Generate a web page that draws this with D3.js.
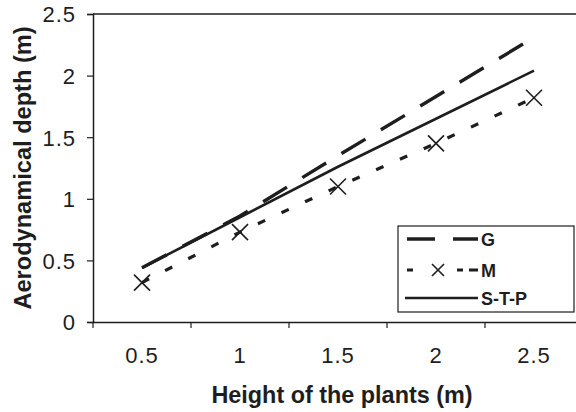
<!DOCTYPE html>
<html><head><meta charset="utf-8">
<script src="https://cdn.jsdelivr.net/npm/d3@7"></script>
<style>body{margin:0;background:#fff}svg{display:block}</style>
</head><body>
<svg id="c" width="576" height="412"></svg>
<script>
const categories = ["0.5","1","1.5","2","2.5"];
const seriesG = [0.44, 0.86, 1.35, 1.83, 2.31];
const seriesM = [0.32, 0.73, 1.10, 1.45, 1.82];
const seriesSTP = [0.44, 0.85, 1.26, 1.65, 2.04];
const yTicks = [0, 0.5, 1, 1.5, 2, 2.5];
const yTickLabels = ["0","0.5","1","1.5","2","2.5"];

const ink = "#1e1e1e";
const font = "'Liberation Sans', Arial, sans-serif";
const svg = d3.select("#c");
const L = 93, T = 14, R = 583, B = 322;
const x = d3.scaleBand().domain(categories).range([L, R]).padding(0);
const y = d3.scaleLinear().domain([0, 2.5]).range([B, T]);
const cx = c => x(c) + x.bandwidth() / 2;

// frame top
svg.append("line").attr("x1", L).attr("x2", 576).attr("y1", T).attr("y2", T)
  .attr("stroke", ink).attr("stroke-width", 1.5);

// y axis
const ya = svg.append("g").attr("transform", `translate(${L},0)`)
  .call(d3.axisLeft(y).tickValues(yTicks).tickFormat((d, i) => yTickLabels[i]).tickSize(6));
ya.select(".domain").attr("stroke", ink).attr("stroke-width", 1.5);
ya.selectAll(".tick line").attr("stroke", ink).attr("stroke-width", 1.2);
ya.selectAll("text").attr("x", -17).attr("dy", "0.36em")
  .attr("font-family", font).attr("font-size", 22).attr("letter-spacing", 1).attr("fill", ink);

// x axis
const xa = svg.append("g").attr("transform", `translate(0,${B})`)
  .call(d3.axisBottom(x).tickSize(0));
xa.select(".domain").attr("stroke", ink).attr("stroke-width", 1.5);
xa.selectAll("text").attr("y", 41).attr("dy", 0)
  .attr("font-family", font).attr("font-size", 22).attr("letter-spacing", 1).attr("fill", ink);
const bounds = categories.map(c => x(c)).concat([R]);
xa.selectAll(".bt").data(bounds).enter().append("line")
  .attr("x1", d => d).attr("x2", d => d).attr("y1", 0).attr("y2", 6)
  .attr("stroke", ink).attr("stroke-width", 1.2);

// axis titles
svg.append("text").attr("x", 342).attr("y", 403).attr("text-anchor", "middle")
  .attr("font-family", font).attr("font-weight", "bold").attr("font-size", 23.4).attr("fill", ink)
  .text("Height of the plants (m)");
svg.append("text").attr("transform", "translate(31,168) rotate(-90)").attr("text-anchor", "middle")
  .attr("font-family", font).attr("font-weight", "bold").attr("font-size", 23.6).attr("fill", ink)
  .text("Aerodynamical depth (m)");

const line = d3.line().x((d, i) => cx(categories[i])).y(d => y(d));
svg.append("path").datum(seriesG).attr("d", line).attr("fill", "none")
  .attr("stroke", ink).attr("stroke-width", 3.4).attr("stroke-dasharray", "28,18");
svg.append("path").datum(seriesM).attr("d", line).attr("fill", "none")
  .attr("stroke", ink).attr("stroke-width", 3.2).attr("stroke-dasharray", "8,18");
svg.append("path").datum(seriesSTP).attr("d", line).attr("fill", "none")
  .attr("stroke", ink).attr("stroke-width", 2.6);

const xMark = (g, px, py, s) => {
  g.append("path").attr("d", `M${px - s},${py - s}L${px + s},${py + s}M${px - s},${py + s}L${px + s},${py - s}`)
    .attr("stroke", ink).attr("stroke-width", 1.6).attr("fill", "none");
};
const mk = svg.append("g");
seriesM.forEach((v, i) => xMark(mk, cx(categories[i]), y(v), 8));

// legend
const lg = svg.append("g");
lg.append("rect").attr("x", 398).attr("y", 226).attr("width", 176).attr("height", 86)
  .attr("fill", "#fff").attr("stroke", ink).attr("stroke-width", 1.2);
const legendItems = ["G", "M", "S-T-P"];
const ly = [239, 270, 298];
lg.append("line").attr("x1", 407).attr("x2", 478).attr("y1", ly[0]).attr("y2", ly[0])
  .attr("stroke", ink).attr("stroke-width", 3.4).attr("stroke-dasharray", "28,18");
lg.append("line").attr("x1", 407).attr("x2", 478).attr("y1", ly[1]).attr("y2", ly[1])
  .attr("stroke", ink).attr("stroke-width", 3.2).attr("stroke-dasharray", "6,44,6");
xMark(lg, 438, ly[1], 6);
lg.append("line").attr("x1", 405).attr("x2", 478).attr("y1", ly[2]).attr("y2", ly[2])
  .attr("stroke", ink).attr("stroke-width", 2.6);
legendItems.forEach((t, i) => lg.append("text").attr("x", 481).attr("y", ly[i] + 7)
  .attr("font-family", font).attr("font-weight", "bold").attr("font-size", 18).attr("fill", ink).text(t));
</script>
</body></html>
